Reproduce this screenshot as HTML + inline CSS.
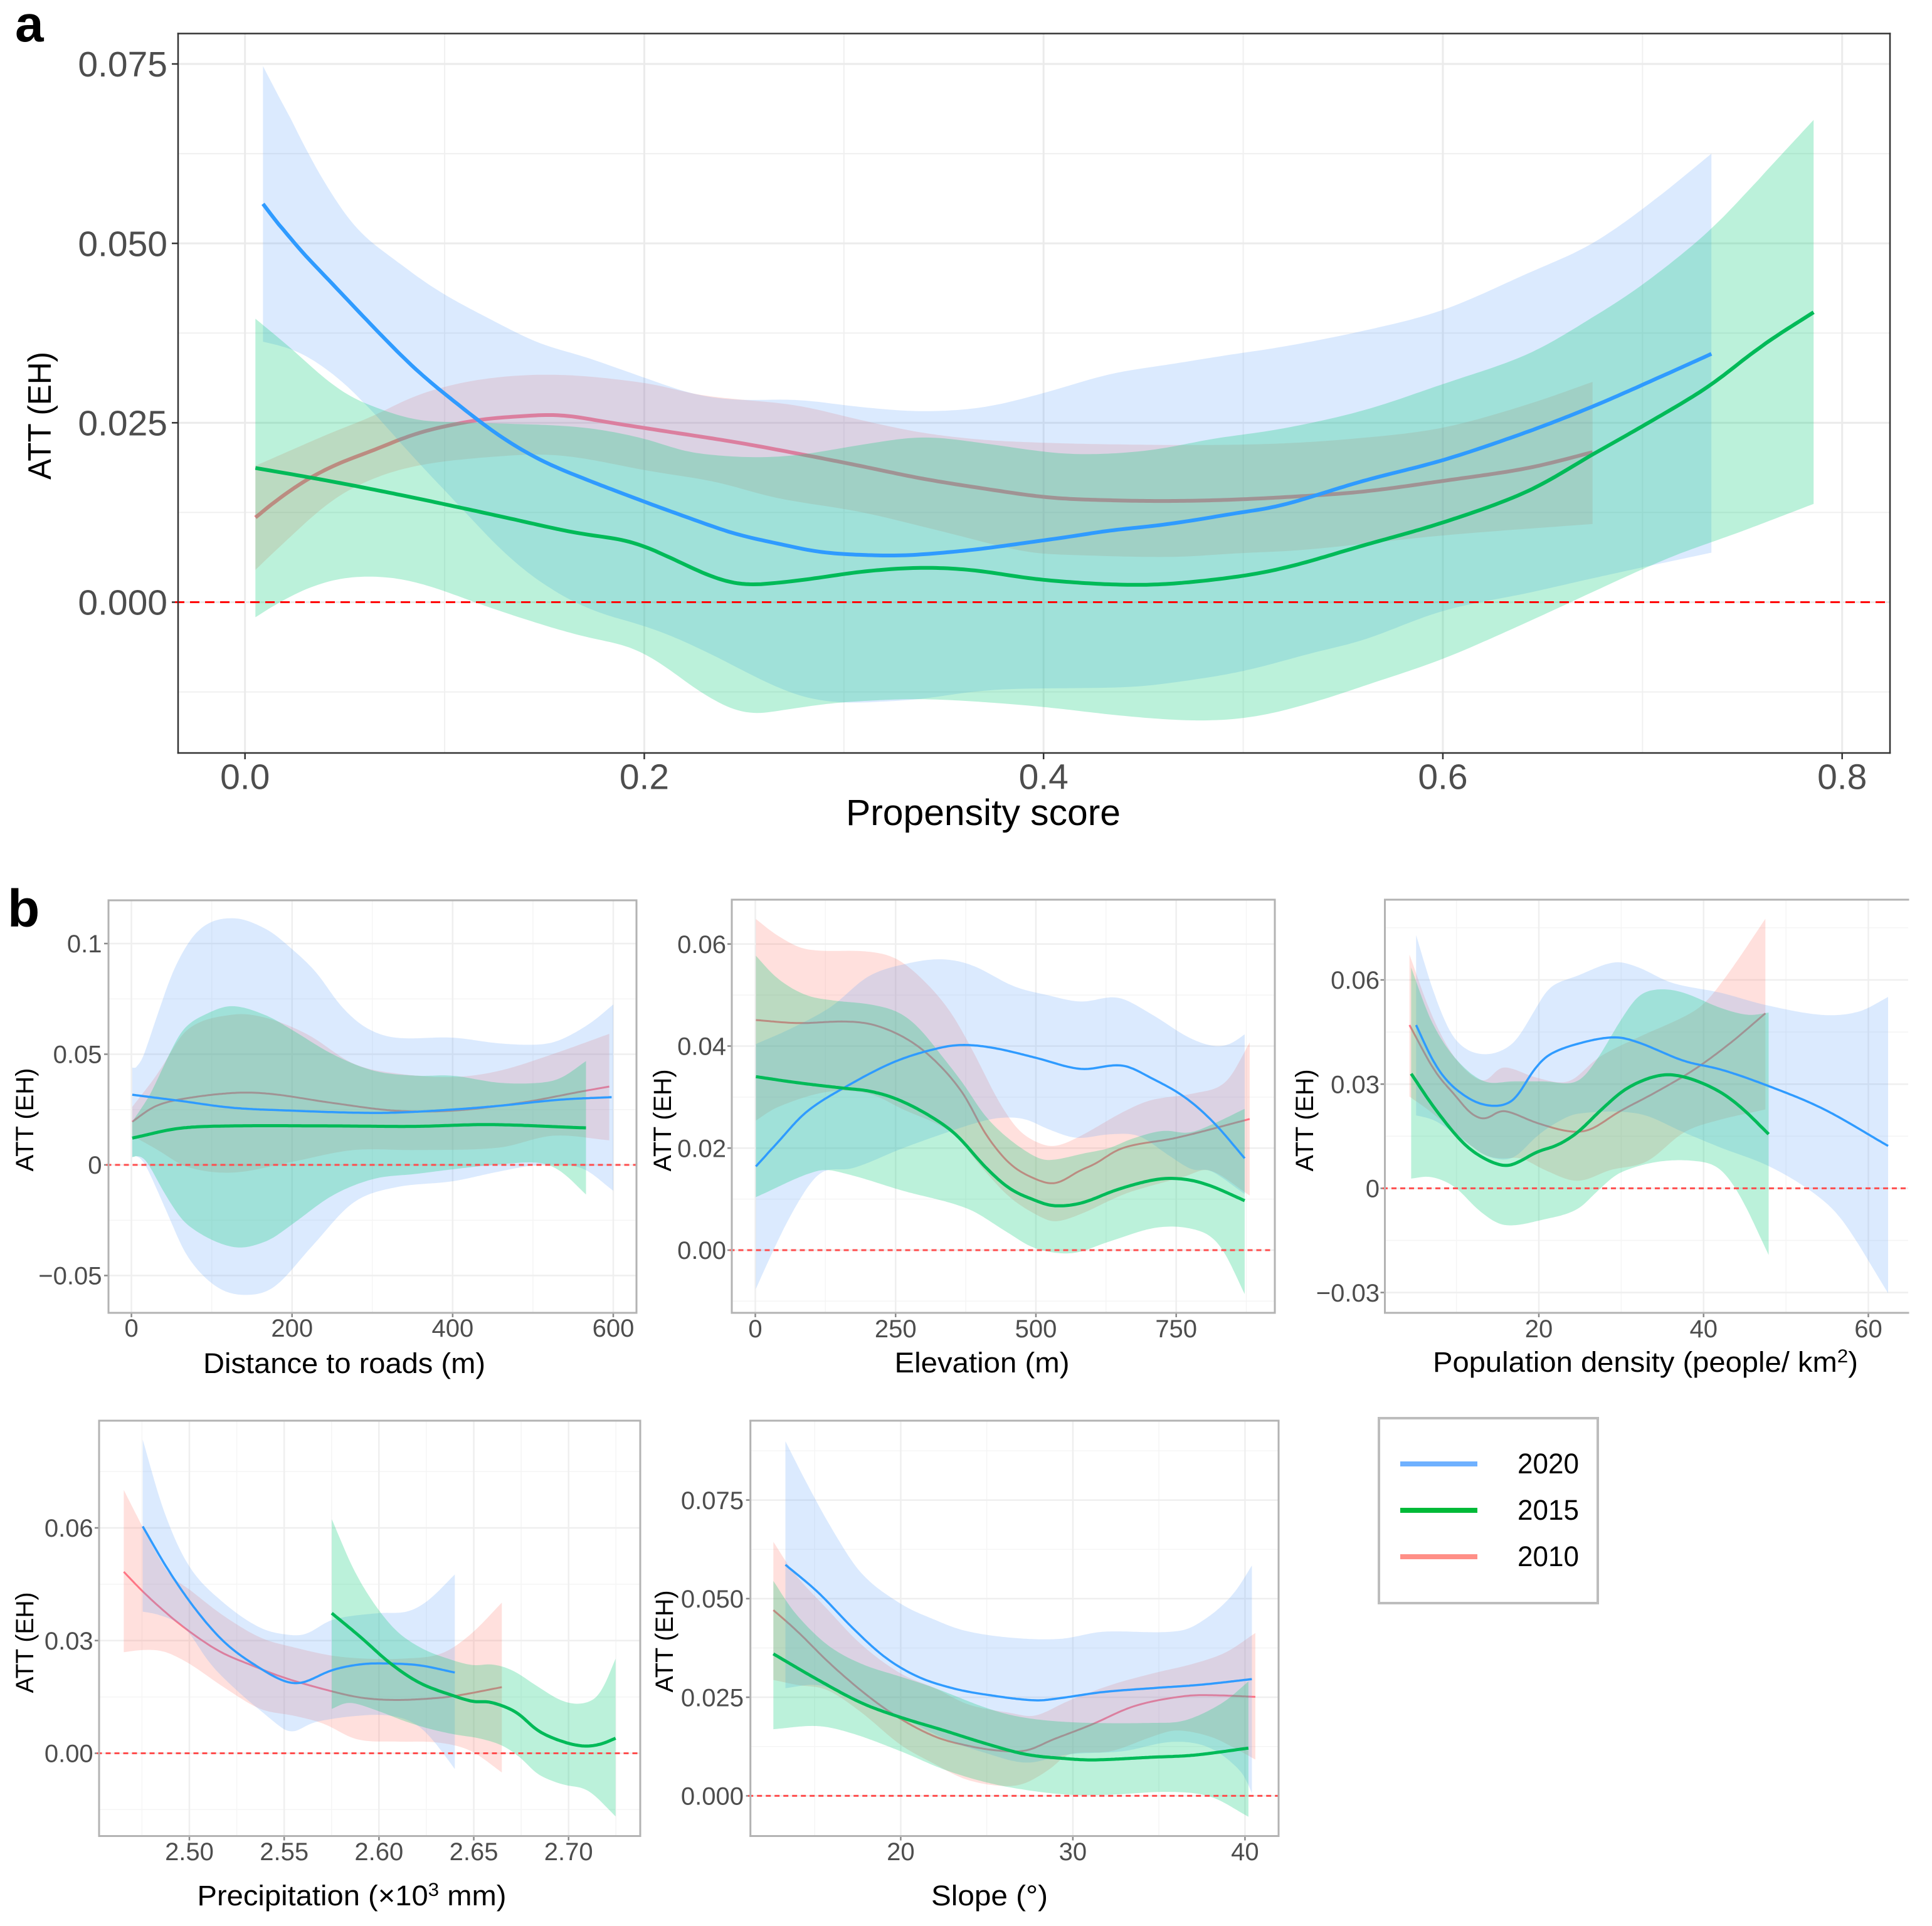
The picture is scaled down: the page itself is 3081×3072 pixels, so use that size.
<!DOCTYPE html>
<html>
<head>
<meta charset="utf-8">
<title>ATT (EH) panels</title>
<style>
html,body{margin:0;padding:0;background:#fff;width:3081px;height:3072px;overflow:hidden}
svg{display:block;position:absolute;left:0;top:0}
text{font-family:"Liberation Sans",sans-serif}
.ttl{fill:#000}
</style>
</head>
<body>
<svg id="figure" xmlns="http://www.w3.org/2000/svg" width="3081" height="3072" viewBox="0 0 3081 3072">
  <rect x="0" y="0" width="3081" height="3072" fill="#ffffff"/>
  <text x="24" y="66" font-size="82" font-weight="bold" class="ttl">a</text>
  <text x="12" y="1478" font-size="84" font-weight="bold" class="ttl">b</text>

  <g id="panels"></g>

  <text class="ttl" x="1568" y="1316" text-anchor="middle" font-size="58" textLength="438" lengthAdjust="spacingAndGlyphs">Propensity score</text>
  <text class="ttl" transform="translate(81,663) rotate(-90)" text-anchor="middle" font-size="52" textLength="204" lengthAdjust="spacingAndGlyphs">ATT (EH)</text>

  <text class="ttl" x="549" y="2190" text-anchor="middle" font-size="45" textLength="450" lengthAdjust="spacingAndGlyphs">Distance to roads (m)</text>
  <text class="ttl" transform="translate(53,1786) rotate(-90)" text-anchor="middle" font-size="40" textLength="165" lengthAdjust="spacingAndGlyphs">ATT (EH)</text>

  <text class="ttl" x="1566" y="2189" text-anchor="middle" font-size="45" textLength="279" lengthAdjust="spacingAndGlyphs">Elevation (m)</text>
  <text class="ttl" transform="translate(1070,1787) rotate(-90)" text-anchor="middle" font-size="40" textLength="163" lengthAdjust="spacingAndGlyphs">ATT (EH)</text>

  <text class="ttl" x="2624" y="2188" text-anchor="middle" font-size="45" textLength="678" lengthAdjust="spacingAndGlyphs">Population density (people/ km<tspan font-size="30" dy="-15">2</tspan><tspan dy="15">)</tspan></text>
  <text class="ttl" transform="translate(2094,1787) rotate(-90)" text-anchor="middle" font-size="40" textLength="163" lengthAdjust="spacingAndGlyphs">ATT (EH)</text>

  <text class="ttl" x="561" y="3039" text-anchor="middle" font-size="45" textLength="493" lengthAdjust="spacingAndGlyphs">Precipitation (×10<tspan font-size="30" dy="-15">3</tspan><tspan dy="15"> mm)</tspan></text>
  <text class="ttl" transform="translate(53,2620) rotate(-90)" text-anchor="middle" font-size="40" textLength="161" lengthAdjust="spacingAndGlyphs">ATT (EH)</text>

  <text class="ttl" x="1578" y="3039" text-anchor="middle" font-size="45" textLength="186" lengthAdjust="spacingAndGlyphs">Slope (°)</text>
  <text class="ttl" transform="translate(1073,2618) rotate(-90)" text-anchor="middle" font-size="40" textLength="163" lengthAdjust="spacingAndGlyphs">ATT (EH)</text>

  <g>
    <rect x="2199" y="2262" width="349" height="295" fill="#fff" stroke="#bdbdbd" stroke-width="4"/>
    <line x1="2233" x2="2356" y1="2335" y2="2335" stroke="#6fb1ff" stroke-width="8"/>
    <line x1="2233" x2="2356" y1="2409" y2="2409" stroke="#00ba38" stroke-width="8"/>
    <line x1="2233" x2="2356" y1="2483" y2="2483" stroke="#ff8f87" stroke-width="8"/>
    <text class="ttl" x="2420" y="2350" font-size="45" textLength="98" lengthAdjust="spacingAndGlyphs">2020</text>
    <text class="ttl" x="2420" y="2424" font-size="45" textLength="98" lengthAdjust="spacingAndGlyphs">2015</text>
    <text class="ttl" x="2420" y="2498" font-size="45" textLength="98" lengthAdjust="spacingAndGlyphs">2010</text>
  </g>
</svg>

<script>
/* ---------- Panel a: propensity score ---------- */
const aXTicks = [0, 0.2, 0.4, 0.6, 0.8];
const aXLabels = ["0.0", "0.2", "0.4", "0.6", "0.8"];
const aXMinor = [0.1, 0.3, 0.5, 0.7];
const aYTicks = [0, 0.025, 0.05, 0.075];
const aYLabels = ["0.000", "0.025", "0.050", "0.075"];
const aYMinor = [-0.0125, 0.0125, 0.0375, 0.0625];
const a2020Line = [[.009,.0555],[.023,.0505],[.044,.0443],[.0648,.0382],[.0856,.0324],[.1065,.0276],[.1273,.0232],[.148,.0198],[.169,.0173],[.204,.0136],[.2248,.0115],[.2457,.0095],[.2665,.0082],[.2874,.007],[.308,.0066],[.329,.0065],[.35,.0069],[.3708,.0075],[.3917,.0083],[.4125,.0091],[.4334,.01],[.4543,.0106],[.475,.0114],[.496,.0124],[.518,.0134],[.56,.0169],[.6002,.0198],[.643,.0238],[.6745,.0272],[.7058,.031],[.7345,.0346]];
const a2020Hi = [[.009,.0747],[.023,.0672],[.0356,.0605],[.0544,.0524],[.0752,.0477],[.096,.0435],[.1273,.0388],[.148,.036],[.169,.0343],[.204,.0309],[.2248,.029],[.2457,.0282],[.277,.0282],[.308,.0272],[.3395,.0266],[.371,.0272],[.402,.0293],[.4334,.0318],[.4646,.0332],[.496,.0346],[.518,.0355],[.56,.0378],[.6,.0407],[.643,.0459],[.6745,.0499],[.7058,.056],[.7345,.0625]];
const a2020Lo = [[.009,.0363],[.0272,.0349],[.044,.0318],[.0585,.0282],[.0856,.0198],[.1065,.0137],[.12,.00965],[.1337,.0059],[.1533,.0018],[.1757,-.0013],[.2,-.0033],[.2178,-.0052],[.2374,-.0078],[.26,-.011],[.2795,-.0132],[.2991,-.014],[.316,-.0139],[.3384,-.0135],[.3636,-.0125],[.383,-.0121],[.4057,-.012],[.445,-.0118],[.4701,-.011],[.5,-.0096],[.537,-.0069],[.56,-.0053],[.6,-.0012],[.643,.0013],[.6745,.0033],[.7058,.0052],[.7345,.0069]];
const a2015Line = [[.0052,.0187],[.044,.0168],[.0856,.0145],[.1273,.012],[.1659,.00965],[.1925,.0085],[.2093,.0067],[.229,.0041],[.243,.0027],[.2528,.0024],[.2795,.0031],[.3103,.0043],[.3384,.0048],[.3636,.0045],[.4,.0031],[.4477,.0024],[.4842,.0031],[.518,.0046],[.56,.0079],[.6,.0111],[.643,.0155],[.6745,.0205],[.6998,.0245],[.7345,.0303],[.758,.0354],[.7857,.0404]];
const a2015Hi = [[.0052,.0395],[.023,.0354],[.044,.0302],[.0585,.0279],[.0856,.0254],[.1065,.0251],[.1273,.0249],[.158,.0246],[.179,.024],[.204,.0225],[.2206,.021],[.252,.0202],[.277,.0205],[.308,.0219],[.3395,.023],[.371,.0221],[.402,.0209],[.4229,.0206],[.4543,.0212],[.4855,.0228],[.518,.0241],[.56,.0267],[.6,.0304],[.643,.0346],[.6745,.0396],[.6998,.0442],[.7345,.052],[.758,.0589],[.7857,.0672]];
const a2015Lo = [[.0052,-.0021],[.023,.0009],[.044,.0031],[.0637,.0036],[.0856,.0028],[.1252,-.001],[.1533,-.0035],[.1729,-.005],[.1925,-.0062],[.2093,-.0087],[.2262,-.0122],[.243,-.0148],[.2528,-.0156],[.2654,-.0152],[.2935,-.0141],[.3215,-.0136],[.3384,-.0135],[.3636,-.0138],[.4,-.0146],[.4421,-.0159],[.4786,-.0165],[.5067,-.0159],[.537,-.0138],[.56,-.0117],[.6,-.0079],[.643,-.0027],[.664,0],[.7,.0046],[.7188,.0068],[.748,.0097],[.7857,.0137]];
const a2010Line = [[.0052,.0118],[.023,.0157],[.044,.019],[.0648,.0212],[.0856,.0235],[.1169,.0254],[.1378,.0259],[.158,.0261],[.179,.0252],[.204,.0241],[.2457,.0223],[.277,.0207],[.308,.019],[.3395,.0172],[.371,.0158],[.402,.0146],[.4334,.0142],[.4646,.0141],[.496,.0143],[.531,.0148],[.56,.0154],[.6,.0169],[.643,.0187],[.675,.0209]];
const a2010Hi = [[.0052,.019],[.044,.0237],[.0648,.026],[.0856,.0288],[.1169,.031],[.1564,.0317],[.204,.0304],[.2248,.029],[.2457,.0283],[.277,.0274],[.308,.0254],[.3395,.0236],[.371,.0226],[.402,.0222],[.4334,.022],[.475,.0219],[.518,.0221],[.56,.0229],[.6,.0243],[.643,.0276],[.675,.0307]];
const a2010Lo = [[.0052,.0045],[.023,.0092],[.044,.0143],[.0648,.0173],[.0856,.019],[.1169,.0201],[.1564,.0205],[.204,.0182],[.2352,.0168],[.2665,.0145],[.308,.0126],[.35,.0098],[.3917,.007],[.4125,.0066],[.4646,.0063],[.496,.0068],[.531,.0073],[.6,.0093],[.675,.0109]];

/* ---------- Panel b1: distance to roads ---------- */
const roadsXTicks = [0, 200, 400, 600];
const roadsXLabels = ["0", "200", "400", "600"];
const roadsXMinor = [100, 300, 500];
const roadsYTicks = [-0.05, 0, 0.05, 0.1];
const roadsYLabels = ["\u22120.05", "0", "0.05", "0.1"];
const roadsYMinor = [-0.025, 0.025, 0.075];
const roads2020Line = [[1,.0317],[59,.029],[126,.0258],[200,.0245],[276,.0236],[328,.0236],[400,.025],[458,.0267],[535,.0295],[598,.0306]];
const roads2020Hi = [[1,.044],[10,.0447],[28,.0631],[54,.0892],[85,.1065],[126,.1115],[168,.1065],[199,.0978],[230,.087],[261,.0718],[292,.062],[328,.0575],[400,.0575],[458,.0549],[509,.0544],[535,.0566],[572,.0642],[600,.0725]];
const roads2020Lo = [[1,.0035],[12,.0035],[43,-.0204],[69,-.041],[106,-.0551],[142,-.0588],[178,-.0551],[225,-.0367],[276,-.0171],[328,-.0102],[400,-.0074],[458,-.003],[509,0],[561,-.0015],[600,-.0117]];
const roads2015Line = [[1,.0121],[59,.0165],[126,.0176],[250,.0176],[354,.0174],[447,.0182],[566,.0167]];
const roads2015Hi = [[1,.0195],[23,.0317],[43,.0468],[64,.061],[95,.0685],[126,.0718],[168,.0675],[200,.061],[250,.0501],[302,.0425],[354,.0403],[400,.0403],[458,.0371],[509,.0371],[535,.0393],[566,.0469]];
const roads2015Lo = [[1,.0035],[15,.0035],[43,-.0139],[69,-.0269],[126,-.0371],[168,-.0345],[200,-.0269],[250,-.0139],[302,-.0063],[354,-.0041],[400,-.002],[458,.0002],[509,.0009],[535,-.003],[566,-.0134]];
const roads2010Line = [[1,.0195],[28,.0262],[59,.0295],[126,.0325],[173,.0321],[250,.028],[328,.0245],[400,.0245],[484,.028],[561,.0332],[595,.0354]];
const roads2010Hi = [[1,.0262],[33,.0414],[69,.061],[126,.0679],[168,.0664],[220,.0588],[276,.0458],[328,.0414],[400,.0397],[458,.0425],[525,.0501],[595,.0592]];
const roads2010Lo = [[1,.0132],[33,.0067],[69,-.0009],[126,-.0035],[199,.0013],[276,.0067],[354,.0067],[458,.0078],[525,.0132],[595,.0111]];

/* ---------- Panel b2: elevation ---------- */
const elevXTicks = [0, 250, 500, 750];
const elevXLabels = ["0", "250", "500", "750"];
const elevXMinor = [125, 375, 625, 875];
const elevYTicks = [0, 0.02, 0.04, 0.06];
const elevYLabels = ["0.00", "0.02", "0.04", "0.06"];
const elevYMinor = [-0.01, 0.01, 0.03, 0.05];
const elev2020Line = [[1,.0164],[39,.021],[90,.027],[161,.032],[250,.037],[335,.0398],[379,.0402],[431,.0395],[500,.0377],[580,.0355],[654,.0362],[706,.0337],[765,.03],[817,.025],[872,.018]];
const elev2020Hi = [[1,.0404],[61,.0433],[135,.0477],[202,.0537],[276,.0563],[335,.057],[387,.0558],[461,.0517],[520,.05],[580,.0487],[646,.0495],[705,.0463],[772,.0417],[817,.04],[846,.0404],[872,.0423]];
const elev2020Lo = [[1,-.0076],[31,-.0003],[61,.0064],[98,.0131],[124,.0156],[172,.016],[261,.0199],[350,.0234],[409,.0254],[446,.026],[483,.0256],[520,.0238],[572,.022],[631,.0227],[683,.0224],[735,.0187],[780,.0157],[809,.0157],[872,.011]];
const elev2015Line = [[1,.034],[76,.0328],[161,.0317],[202,.0312],[250,.0297],[305,.0267],[357,.0227],[409,.0164],[453,.0121],[500,.0097],[531,.0087],[580,.0092],[646,.0119],[717,.0139],[765,.0139],[809,.0127],[872,.0097]];
const elev2015Hi = [[1,.0577],[39,.0533],[90,.05],[142,.0489],[202,.0482],[253,.0467],[290,.0437],[335,.0377],[372,.0324],[409,.0264],[453,.0217],[505,.018],[531,.0177],[587,.019],[631,.02],[668,.0217],[726,.0234],[772,.023],[809,.0244],[872,.0277]];
const elev2015Lo = [[1,.0104],[113,.0156],[164,.0149],[261,.0117],[379,.0081],[446,.0037],[498,.0004],[565,-.0006],[631,.0017],[720,.0045],[794,.0037],[831,.0004],[872,-.0086]];
const elev2010Line = [[1,.0451],[76,.0445],[164,.0448],[216,.044],[276,.041],[327,.0364],[372,.0304],[409,.023],[453,.017],[498,.014],[535,.0131],[580,.0157],[602,.0167],[654,.02],[750,.022],[881,.0257]];
const elev2010Hi = [[1,.0649],[39,.0617],[90,.059],[202,.0585],[253,.057],[305,.0523],[350,.0463],[394,.0377],[431,.0297],[468,.0237],[505,.021],[535,.0204],[580,.0224],[654,.027],[705,.0294],[780,.0307],[839,.033],[881,.0407]];
const elev2010Lo = [[1,.0254],[39,.028],[127,.031],[202,.0307],[261,.0277],[350,.023],[402,.0164],[453,.0104],[505,.0067],[535,.0056],[587,.0074],[631,.0097],[668,.0114],[765,.0144],[809,.0157],[881,.0107]];

/* ---------- Panel b3: population density ---------- */
const popXTicks = [20, 40, 60];
const popXLabels = ["20", "40", "60"];
const popXMinor = [10, 30, 50];
const popYTicks = [-0.03, 0, 0.03, 0.06];
const popYLabels = ["\u22120.03", "0", "0.03", "0.06"];
const popYMinor = [-0.015, 0.015, 0.045, 0.075];
const pop2020Line = [[5.1,.047],[7.4,.0357],[9.8,.0288],[13.3,.0241],[16.8,.0252],[19.3,.0337],[21,.0381],[24.7,.0416],[29.2,.0435],[32.1,.042],[37.6,.0367],[42.1,.0342],[47.5,.0298],[54.5,.0229],[62.4,.0122]];
const pop2020Hi = [[5.1,.0729],[7.4,.0553],[9.8,.043],[13.1,.0386],[16.8,.0416],[19.3,.0504],[21.2,.0575],[24.7,.0612],[29.2,.0651],[32.1,.0636],[36.1,.0592],[42.1,.0563],[47.5,.0528],[54.5,.0499],[58.9,.0509],[62.4,.0551]];
const pop2020Lo = [[5.1,.021],[7.4,.0195],[11.3,.0131],[13.8,.0092],[16.8,.0087],[19.8,.0151],[22.2,.019],[24.7,.0215],[32.1,.0215],[37.6,.0161],[42.1,.0117],[48,.0063],[53.5,-.0016],[56.9,-.0094],[62.4,-.0302]];
const pop2015Line = [[4.5,.033],[7.4,.0229],[10.8,.0131],[13.3,.0087],[15.8,.0065],[17.3,.0073],[19.8,.0105],[22.2,.0124],[24.7,.0161],[27.7,.0229],[30.7,.0288],[34.6,.0325],[37.6,.0321],[41.6,.0283],[44.5,.0234],[47.9,.0156]];
const pop2015Hi = [[4.5,.0636],[6.9,.0484],[9.8,.0376],[13.3,.0308],[16.8,.0308],[20.7,.0308],[24.7,.0308],[27.2,.0376],[29.7,.0475],[32.1,.0553],[34.6,.0573],[37.6,.0563],[42.1,.0519],[45.5,.0499],[47.9,.0506]];
const pop2015Lo = [[4.5,.0028],[6.9,.0033],[9.8,.0004],[12.8,-.0065],[15.8,-.0106],[20.7,-.0089],[24.7,-.006],[27.2,-.0006],[29.7,.0043],[34.6,.0077],[39.6,.0077],[42.1,.0053],[44.5,-.0025],[47.9,-.0192]];
const pop2010Line = [[4.3,.047],[7.4,.0337],[9.8,.0269],[11.8,.0215],[13.6,.02],[15.5,.0224],[19.8,.0188],[23.7,.0164],[26.2,.0169],[29.7,.022],[33.6,.0269],[37.6,.0323],[40.1,.0362],[43.6,.0425],[47.5,.0504]];
const pop2010Hi = [[4.3,.0673],[6.9,.0504],[9.8,.0376],[13.3,.0308],[15.5,.0349],[19.8,.0318],[23.7,.0308],[27.2,.0376],[32.1,.0435],[37.6,.0494],[40.1,.0533],[43.1,.0622],[47.5,.0776]];
const pop2010Lo = [[4.3,.0264],[6.9,.022],[9.8,.0161],[13.3,.0097],[15.5,.0086],[17.8,.0087],[20.7,.0053],[24.7,.0021],[28.7,.0053],[33.1,.0077],[37.6,.0161],[41.6,.0195],[47.5,.0227]];

/* ---------- Panel b4: precipitation ---------- */
const precipXTicks = [2.5, 2.55, 2.6, 2.65, 2.7];
const precipXLabels = ["2.50", "2.55", "2.60", "2.65", "2.70"];
const precipXMinor = [2.475, 2.525, 2.575, 2.625, 2.675, 2.725];
const precipYTicks = [0, 0.03, 0.06];
const precipYLabels = ["0.00", "0.03", "0.06"];
const precipYMinor = [-0.015, 0.015, 0.045, 0.075];
const precip2020Line = [[2.4754,.0604],[2.4887,.0489],[2.5042,.0377],[2.5197,.029],[2.5374,.0226],[2.5507,.0191],[2.5596,.0188],[2.5751,.0221],[2.5906,.0237],[2.605,.0239],[2.6216,.0234],[2.64,.0215]];
const precip2020Hi = [[2.4754,.0835],[2.4865,.0645],[2.4998,.0498],[2.5175,.0403],[2.5374,.0334],[2.5529,.0315],[2.5618,.0318],[2.5751,.0355],[2.5994,.0373],[2.6149,.0377],[2.626,.0407],[2.64,.0476]];
const precip2020Lo = [[2.4754,.0377],[2.4843,.0368],[2.4976,.0334],[2.5109,.0239],[2.5264,.0161],[2.5396,.0105],[2.5507,.0061],[2.5551,.0057],[2.5662,.0083],[2.595,.0102],[2.6105,.0096],[2.6216,.007],[2.6305,.0022],[2.64,-.0042]];
const precip2015Line = [[2.5751,.0373],[2.5906,.0308],[2.6061,.0239],[2.6216,.0187],[2.64,.0152],[2.6504,.0137],[2.6581,.0137],[2.6725,.0109],[2.6836,.0061],[2.6969,.0031],[2.708,.0019],[2.7168,.0024],[2.7248,.004]];
const precip2015Hi = [[2.5751,.0623],[2.5884,.0472],[2.6061,.0342],[2.6216,.0282],[2.64,.0246],[2.6504,.0234],[2.6593,.0237],[2.6703,.0221],[2.6836,.0178],[2.6969,.0139],[2.708,.0133],[2.7168,.0161],[2.7248,.0252]];
const precip2015Lo = [[2.5751,.0118],[2.5839,.0135],[2.5994,.0113],[2.6127,.0087],[2.626,.0066],[2.64,.005],[2.6526,.004],[2.6648,.0021],[2.6747,-.0012],[2.6836,-.0055],[2.6969,-.0083],[2.7102,-.0099],[2.7248,-.0168]];
const precip2010Line = [[2.4654,.0483],[2.4776,.042],[2.4954,.0342],[2.5153,.0273],[2.533,.0234],[2.5507,.02],[2.5751,.0165],[2.5906,.0148],[2.6061,.0142],[2.6216,.0144],[2.6393,.0152],[2.6648,.0176]];
const precip2010Hi = [[2.4654,.0701],[2.4754,.0602],[2.4887,.0481],[2.4998,.0437],[2.5175,.0368],[2.5374,.0308],[2.5551,.0282],[2.5751,.026],[2.5928,.0252],[2.6127,.0252],[2.6327,.0265],[2.6482,.0316],[2.6648,.0401]];
const precip2010Lo = [[2.4654,.0269],[2.4754,.0275],[2.4865,.0271],[2.4998,.0239],[2.5175,.0178],[2.5374,.0118],[2.5551,.01],[2.5707,.0079],[2.5884,.0037],[2.6105,.0031],[2.6305,.0029],[2.6482,.0007],[2.6648,-.0051]];

/* ---------- Panel b5: slope ---------- */
const slopeXTicks = [20, 30, 40];
const slopeXLabels = ["20", "30", "40"];
const slopeXMinor = [15, 25, 35];
const slopeYTicks = [0, 0.025, 0.05, 0.075];
const slopeYLabels = ["0.000", "0.025", "0.050", "0.075"];
const slopeYMinor = [0.0125, 0.0375, 0.0625, 0.0875];
const slope2020Line = [[13.3,.0586],[15.2,.0516],[17.2,.0426],[19.1,.0351],[21,.0302],[23,.0273],[24.9,.0257],[27.8,.0242],[29.3,.0248],[31.7,.0263],[34.6,.0273],[37.5,.0282],[40.4,.0296]];
const slope2020Hi = [[13.3,.0899],[14.5,.0796],[16,.0677],[17.7,.0565],[20,.0487],[22,.0446],[23.7,.0419],[26.4,.0401],[29.3,.0398],[31.7,.0416],[36.3,.0419],[38,.0458],[39.4,.0516],[40.4,.0584]];
const slope2020Lo = [[13.3,.0273],[15.2,.0281],[17.2,.0249],[20,.0199],[22.5,.0146],[24.9,.0109],[27.3,.0084],[29.7,.0105],[32.9,.0113],[35.8,.0137],[38,.0121],[39.9,.0055],[40.4,.0006]];
const slope2015Line = [[12.6,.036],[15.2,.0294],[17.7,.0236],[20,.0199],[22.5,.0166],[24.9,.0133],[27.3,.0105],[29.7,.0094],[31.2,.0091],[34.6,.0098],[37,.0103],[40.2,.0121]];
const slope2015Hi = [[12.6,.0545],[13.8,.0467],[15.7,.0384],[17.7,.0335],[20,.0302],[22,.0273],[24.9,.0224],[26.6,.0203],[28.5,.0191],[31,.0185],[34.6,.0185],[36.5,.0191],[38.7,.0236],[40.2,.029]];
const slope2015Lo = [[12.6,.0169],[15.2,.0177],[17.2,.0158],[20,.0113],[22.5,.0067],[24.9,.0035],[27.1,.0016],[29.7,.0003],[32.2,.0003],[35.6,.001],[38,-.0002],[40.2,-.0053]];
const slope2010Line = [[12.6,.0471],[14,.0417],[15.9,.0335],[18.1,.0253],[20,.0195],[22,.015],[23.7,.0129],[25.6,.0115],[27.3,.0115],[28.8,.0142],[31,.0179],[33.6,.0228],[36.5,.0253],[38.2,.0255],[40.6,.0251]];
const slope2010Hi = [[12.6,.0644],[13.8,.0565],[15.7,.0475],[17.7,.0384],[20,.031],[22,.0273],[23.9,.0232],[26.4,.021],[27.8,.0203],[29.7,.024],[32.2,.0281],[34.6,.031],[37,.0335],[38.9,.0364],[40.6,.0413]];
const slope2010Lo = [[12.6,.0294],[14,.0281],[15.7,.0269],[17.7,.0212],[20,.0129],[22,.008],[23.7,.0043],[25.6,.0026],[27.1,.003],[28.8,.0072],[29.7,.0105],[32.2,.0113],[34.6,.015],[36,.0166],[38,.015],[39.4,.0121],[40.6,.0092]];

/* ---------- Drawing ---------- */
const NS = "http://www.w3.org/2000/svg";
const root = document.getElementById("panels");

function linear(d0, d1, r0, r1) {
  return function (v) { return r0 + (v - d0) * (r1 - r0) / (d1 - d0); };
}
function make(tag, attrs, parent) {
  const el = document.createElementNS(NS, tag);
  for (const k in attrs) el.setAttribute(k, attrs[k]);
  parent.appendChild(el);
  return el;
}
/* Smooth curve through the read values: Hermite resampling, then a short running mean. */
function curve(data, sx, sy, radius, step) {
  const pts = data.map(function (p) { return [sx(p[0]), sy(p[1])]; });
  const n = pts.length;
  const m = pts.map(function (p, i) {
    const a = pts[Math.max(i - 1, 0)];
    const b = pts[Math.min(i + 1, n - 1)];
    return (b[1] - a[1]) / ((b[0] - a[0]) || 1);
  });
  const fine = [pts[0].slice()];
  for (let i = 0; i < n - 1; i++) {
    const h = pts[i + 1][0] - pts[i][0];
    const k = Math.max(1, Math.round(h / step));
    for (let j = 1; j <= k; j++) {
      const t = j / k, t2 = t * t, t3 = t2 * t;
      fine.push([
        pts[i][0] + h * t,
        (2 * t3 - 3 * t2 + 1) * pts[i][1] + (t3 - 2 * t2 + t) * h * m[i] +
        (-2 * t3 + 3 * t2) * pts[i + 1][1] + (t3 - t2) * h * m[i + 1]
      ]);
    }
  }
  const r = Math.round(radius / step);
  const last = fine.length - 1;
  return fine.map(function (p, i) {
    const w = Math.min(r, i, last - i);
    let sum = 0;
    for (let j = i - w; j <= i + w; j++) sum += fine[j][1];
    return [p[0], sum / (2 * w + 1)];
  });
}
function toD(pts) {
  return pts.map(function (p) { return p[0].toFixed(1) + " " + p[1].toFixed(1); }).join("L");
}
function linePath(data, p) {
  return "M" + toD(curve(data, p.sx, p.sy, p.smooth, p.step));
}
function ribbonPath(hi, lo, p) {
  const top = curve(hi, p.sx, p.sy, p.smooth, p.step);
  const bot = curve(lo, p.sx, p.sy, p.smooth, p.step).reverse();
  return "M" + toD(top) + "L" + toD(bot) + "Z";
}

function drawPanel(p) {
  const g = make("g", {}, root);
  
  

  p.xMinor.forEach(function (v) {
    const el = make("line", { x1: p.sx(v), x2: p.sx(v), y1: p.top, y2: p.bottom, stroke: p.minorColor, "stroke-width": p.minorW }, g);
    
    
  });
  p.yMinor.forEach(function (v) {
    const el = make("line", { x1: p.left, x2: p.right, y1: p.sy(v), y2: p.sy(v), stroke: p.minorColor, "stroke-width": p.minorW }, g);
    
    
  });
  p.xTicks.forEach(function (v, i) {
    const grid = make("line", { x1: p.sx(v), x2: p.sx(v), y1: p.top, y2: p.bottom, stroke: p.majorColor, "stroke-width": p.majorW }, g);
    
    
    const tick = make("line", { x1: p.sx(v), x2: p.sx(v), y1: p.bottom, y2: p.bottom + p.tickLen, stroke: p.tickColor, "stroke-width": 2.5 }, g);
    
    
    const label = make("text", { x: p.sx(v), y: p.xLabelY, "text-anchor": "middle", "font-size": p.tickFont, fill: "#4d4d4d" }, g);
    label.textContent = p.xLabels[i];
    
    
  });
  p.yTicks.forEach(function (v, i) {
    const grid = make("line", { x1: p.left, x2: p.right, y1: p.sy(v), y2: p.sy(v), stroke: p.majorColor, "stroke-width": p.majorW }, g);
    
    
    const tick = make("line", { x1: p.left - p.tickLen, x2: p.left, y1: p.sy(v), y2: p.sy(v), stroke: p.tickColor, "stroke-width": 2.5 }, g);
    
    
    const label = make("text", { x: p.yLabelX, y: p.sy(v) + p.tickFont * 0.355, "text-anchor": "end", "font-size": p.tickFont, fill: "#4d4d4d" }, g);
    label.textContent = p.yLabels[i];
    
    
  });

  const redBand = make("path", { d: ribbonPath(p.red.hi, p.red.lo, p), fill: "#ff7264", "fill-opacity": 0.22, stroke: "none" }, g);
  
  

  const redLine = make("path", { d: linePath(p.red.line, p), fill: "none", stroke: "#ff7585", "stroke-width": p.redW }, g);
  
  

  const blueBand = make("path", { d: ribbonPath(p.blue.hi, p.blue.lo, p), fill: "#61a3fb", "fill-opacity": 0.228, stroke: "none" }, g);
  
  

  const greenBand = make("path", { d: ribbonPath(p.green.hi, p.green.lo, p), fill: "#03cb76", "fill-opacity": 0.27, stroke: "none" }, g);
  
  

  const zero = make("line", { x1: p.left - p.tickLen * 0.5, x2: p.right, y1: p.sy(0), y2: p.sy(0), stroke: p.zeroColor, "stroke-width": 3, "stroke-dasharray": p.dash }, g);
  
  

  const blueLine = make("path", { d: linePath(p.blue.line, p), fill: "none", stroke: "#2f9bff", "stroke-width": p.blueW }, g);
  
  

  const greenLine = make("path", { d: linePath(p.green.line, p), fill: "none", stroke: "#00ba58", "stroke-width": p.greenW }, g);
  
  

  const borders = [[p.left, p.top, p.left, p.bottom], [p.left, p.bottom, p.right, p.bottom], [p.left, p.top, p.right, p.top]];
  if (p.rightBorder) borders.push([p.right, p.top, p.right, p.bottom]);
  borders.forEach(function (b) {
    const el = make("line", { x1: b[0], y1: b[1], x2: b[2], y2: b[3], stroke: p.borderColor, "stroke-width": p.borderW, "stroke-linecap": "square" }, g);
    
    
  });
}

const smallStyle = { smooth: 10, step: 3, minorW: 1.5, majorW: 2.5, minorColor: "#f5f5f5", majorColor: "#efefef", tickLen: 7, tickColor: "#8a8a8a", tickFont: 40, zeroColor: "#ff4d4d", dash: "8 6", blueW: 3.5, greenW: 5, redW: 3, borderColor: "#b3b3b3", borderW: 3, rightBorder: true };

drawPanel({
  name: "propensity", left: 284, right: 3014, top: 53.5, bottom: 1201, smooth: 30, step: 6,
  sx: linear(0, 0.8, 390.7, 2937.7), sy: linear(0, 0.075, 960.5, 102),
  xTicks: aXTicks, xLabels: aXLabels, xMinor: aXMinor, yTicks: aYTicks, yLabels: aYLabels, yMinor: aYMinor,
  xLabelY: 1258.6, yLabelX: 267,
  minorW: 2, majorW: 3, minorColor: "#f0f0f0", majorColor: "#ebebeb", tickLen: 10, tickColor: "#333333", tickFont: 57, zeroColor: "#ff0000", dash: "15 9",
  blueW: 6, greenW: 6, redW: 6, borderColor: "#333333", borderW: 2.5, rightBorder: true,
  blue: { line: a2020Line, hi: a2020Hi, lo: a2020Lo },
  green: { line: a2015Line, hi: a2015Hi, lo: a2015Lo },
  red: { line: a2010Line, hi: a2010Hi, lo: a2010Lo }
});

drawPanel(Object.assign({}, smallStyle, {
  name: "roads", left: 173, right: 1015, top: 1436, bottom: 2094,
  sx: linear(0, 600, 209.6, 978), sy: linear(0, 0.1, 1858, 1505),
  xTicks: roadsXTicks, xLabels: roadsXLabels, xMinor: roadsXMinor, yTicks: roadsYTicks, yLabels: roadsYLabels, yMinor: roadsYMinor,
  xLabelY: 2132, yLabelX: 162.5,
  blue: { line: roads2020Line, hi: roads2020Hi, lo: roads2020Lo },
  green: { line: roads2015Line, hi: roads2015Hi, lo: roads2015Lo },
  red: { line: roads2010Line, hi: roads2010Hi, lo: roads2010Lo }
}));

drawPanel(Object.assign({}, smallStyle, {
  name: "elevation", left: 1167, right: 2033, top: 1435, bottom: 2094,
  sx: linear(0, 750, 1204.5, 1875.7), sy: linear(0, 0.06, 1994, 1505.7),
  xTicks: elevXTicks, xLabels: elevXLabels, xMinor: elevXMinor, yTicks: elevYTicks, yLabels: elevYLabels, yMinor: elevYMinor,
  xLabelY: 2133, yLabelX: 1158,
  blue: { line: elev2020Line, hi: elev2020Hi, lo: elev2020Lo },
  green: { line: elev2015Line, hi: elev2015Hi, lo: elev2015Lo },
  red: { line: elev2010Line, hi: elev2010Hi, lo: elev2010Lo }
}));

drawPanel(Object.assign({}, smallStyle, {
  name: "population", left: 2208.5, right: 3043, top: 1435, bottom: 2094, rightBorder: false,
  sx: linear(20, 60, 2454, 2979.5), sy: linear(0, 0.06, 1895.4, 1563),
  xTicks: popXTicks, xLabels: popXLabels, xMinor: popXMinor, yTicks: popYTicks, yLabels: popYLabels, yMinor: popYMinor,
  xLabelY: 2133, yLabelX: 2200,
  blue: { line: pop2020Line, hi: pop2020Hi, lo: pop2020Lo },
  green: { line: pop2015Line, hi: pop2015Hi, lo: pop2015Lo },
  red: { line: pop2010Line, hi: pop2010Hi, lo: pop2010Lo }
}));

drawPanel(Object.assign({}, smallStyle, {
  name: "precipitation", left: 158, right: 1021, top: 2266, bottom: 2928.5,
  sx: linear(2.5, 2.7, 302, 906.7), sy: linear(0, 0.06, 2796.5, 2437),
  xTicks: precipXTicks, xLabels: precipXLabels, xMinor: precipXMinor, yTicks: precipYTicks, yLabels: precipYLabels, yMinor: precipYMinor,
  xLabelY: 2967, yLabelX: 148.7,
  blue: { line: precip2020Line, hi: precip2020Hi, lo: precip2020Lo },
  green: { line: precip2015Line, hi: precip2015Hi, lo: precip2015Lo },
  red: { line: precip2010Line, hi: precip2010Hi, lo: precip2010Lo }
}));

drawPanel(Object.assign({}, smallStyle, {
  name: "slope", left: 1196.7, right: 2039, top: 2266, bottom: 2928.5,
  sx: linear(20, 40, 1436.4, 1985.4), sy: linear(0, 0.075, 2864.4, 2392.6),
  xTicks: slopeXTicks, xLabels: slopeXLabels, xMinor: slopeXMinor, yTicks: slopeYTicks, yLabels: slopeYLabels, yMinor: slopeYMinor,
  xLabelY: 2967, yLabelX: 1186,
  blue: { line: slope2020Line, hi: slope2020Hi, lo: slope2020Lo },
  green: { line: slope2015Line, hi: slope2015Hi, lo: slope2015Lo },
  red: { line: slope2010Line, hi: slope2010Hi, lo: slope2010Lo }
}));
</script>
</body>
</html>
